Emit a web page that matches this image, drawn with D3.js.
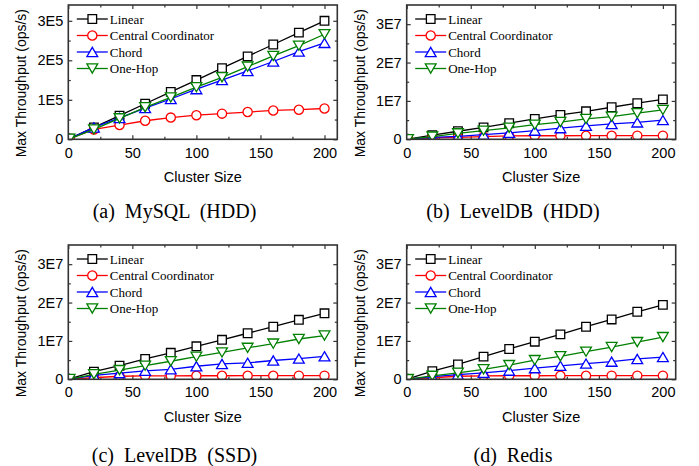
<!DOCTYPE html>
<html>
<head>
<meta charset="utf-8">
<script src="https://cdn.jsdelivr.net/npm/d3@7"></script>
<style>
  html, body { margin: 0; padding: 0; background: #fff; }
  svg { display: block; }
</style>
</head>
<body>
<svg id="chart" width="699" height="466"></svg>
<script>
// ---------------- DATA ----------------
const clusterSizes = [1, 20, 40, 60, 80, 100, 120, 140, 160, 180, 200];
const seriesNames = ["Linear", "Central Coordinator", "Chord", "One-Hop"];

// (a) MySQL (HDD)
const mysqlLinear  = [1500, 30000, 60000, 90000, 120000, 150000, 180000, 210000, 240000, 270000, 300000];
const mysqlCentral = [1500, 25000, 36000, 47000, 55000, 61000, 65000, 69000, 73000, 75000, 78000];
const mysqlChord   = [1200, 30000, 54000, 79000, 102000, 127000, 150000, 173000, 197000, 222000, 244000];
const mysqlOneHop  = [1300, 25000, 53000, 81000, 106000, 132000, 157000, 184000, 211000, 237000, 266000];

// (b) LevelDB (HDD)
const ldbHddLinear  = [52000, 1100000, 2100000, 3100000, 4200000, 5300000, 6350000, 7300000, 8350000, 9400000, 10400000];
const ldbHddCentral = [50000, 400000, 500000, 700000, 900000, 920000, 930000, 940000, 940000, 950000, 950000];
const ldbHddChord   = [30000, 500000, 750000, 1200000, 1700000, 2250000, 2900000, 3500000, 4000000, 4400000, 5000000];
const ldbHddOneHop  = [40000, 700000, 1550000, 2250000, 3000000, 3800000, 4500000, 5300000, 5900000, 6800000, 7650000];

// (c) LevelDB (SSD)
const ldbSsdLinear  = [86000, 2000000, 3550000, 5300000, 6900000, 8600000, 10300000, 12000000, 13700000, 15500000, 17200000];
const ldbSsdCentral = [50000, 400000, 800000, 900000, 900000, 920000, 930000, 940000, 940000, 950000, 950000];
const ldbSsdChord   = [30000, 1000000, 1600000, 2200000, 2600000, 3400000, 4000000, 4300000, 4900000, 5400000, 6000000];
const ldbSsdOneHop  = [60000, 1300000, 2400000, 3550000, 4700000, 5900000, 7000000, 8200000, 9300000, 10500000, 11400000];

// (d) Redis
const redisLinear  = [97000, 2100000, 3900000, 5900000, 7900000, 9800000, 11700000, 13700000, 15600000, 17600000, 19400000];
const redisCentral = [50000, 400000, 800000, 900000, 920000, 930000, 940000, 940000, 950000, 950000, 950000];
const redisChord   = [30000, 700000, 1200000, 1700000, 2250000, 2900000, 3500000, 4100000, 4600000, 5300000, 5800000];
const redisOneHop  = [55000, 900000, 1700000, 2600000, 3700000, 5000000, 6000000, 7200000, 8400000, 9700000, 11000000];

// Axis ticks
const xTicks = [0, 50, 100, 150, 200];
const xMinorTicks = [25, 75, 125, 175];
const yTicksE5 = [0, 100000, 200000, 300000];
const yTickLabelsE5 = ["0", "1E5", "2E5", "3E5"];
const yTicksE7 = [0, 10000000, 20000000, 30000000];
const yTickLabelsE7 = ["0", "1E7", "2E7", "3E7"];
const xLabel = "Cluster Size";
const yLabel = "Max Throughput (ops/s)";
const captions = ["(a) MySQL (HDD)", "(b) LevelDB (HDD)", "(c) LevelDB (SSD)", "(d) Redis"];

// ---------------- LAYOUT ----------------
const colors = ["#000000", "#ff0000", "#0000ff", "#008000"];
const sansFont = "'Liberation Sans', Arial, Helvetica, sans-serif";
const serifFont = "'Liberation Serif', 'Times New Roman', Times, serif";

const panels = [
  { left: 68.3, top: 5, right: 337.3, bottom: 139.3, yMax: 340000, yTicks: yTicksE5, yLabels: yTickLabelsE5,
    series: [mysqlLinear, mysqlCentral, mysqlChord, mysqlOneHop], caption: captions[0], capX: 174.5, ylabX: 21, capY: 217.5, xlabY: 182, tickPad: 8.2 },
  { left: 406.7, top: 5, right: 675.7, bottom: 139.3, yMax: 35000000, yTicks: yTicksE7, yLabels: yTickLabelsE7,
    series: [ldbHddLinear, ldbHddCentral, ldbHddChord, ldbHddOneHop], caption: captions[1], capX: 513, ylabX: 360, capY: 217.5, xlabY: 182, tickPad: 8.2 },
  { left: 68.3, top: 245, right: 337.3, bottom: 379.3, yMax: 35000000, yTicks: yTicksE7, yLabels: yTickLabelsE7,
    series: [ldbSsdLinear, ldbSsdCentral, ldbSsdChord, ldbSsdOneHop], caption: captions[2], capX: 174.5, ylabX: 21, capY: 461.5, xlabY: 422, tickPad: 7.4 },
  { left: 406.7, top: 245, right: 675.7, bottom: 379.3, yMax: 35000000, yTicks: yTicksE7, yLabels: yTickLabelsE7,
    series: [redisLinear, redisCentral, redisChord, redisOneHop], caption: captions[3], capX: 513, ylabX: 360, capY: 461.5, xlabY: 422, tickPad: 7.4 }
];

const svg = d3.select("#chart");

function markerPath(kind) {
  if (kind === 0) { const s = 4.3; return `M${-s},${-s}H${s}V${s}H${-s}Z`; }
  if (kind === 1) { const r = 4.6; return `M${r},0A${r},${r} 0 1,1 ${-r},0A${r},${r} 0 1,1 ${r},0Z`; }
  if (kind === 2) { const w = 5.4, h = 4.6; return `M0,${-h}L${w},${h}L${-w},${h}Z`; }
  const w = 5.4, h = 4.6; return `M0,${h}L${w},${-h}L${-w},${-h}Z`;
}

panels.forEach((p, pi) => {
  const x = d3.scaleLinear().domain([0, 210]).range([p.left, p.right]);
  const y = d3.scaleLinear().domain([0, p.yMax]).range([p.bottom, p.top]);
  const g = svg.append("g");

  const clipId = "clip" + pi;
  svg.append("clipPath").attr("id", clipId)
    .append("rect").attr("x", p.left).attr("y", p.top)
    .attr("width", p.right - p.left).attr("height", p.bottom - p.top);

  const axB = g.append("g").attr("transform", `translate(0,${p.bottom})`)
    .call(d3.axisBottom(x).tickValues(xTicks).tickSize(-4).tickPadding(p.tickPad).tickFormat(d3.format("d")));
  const axBm = g.append("g").attr("transform", `translate(0,${p.bottom})`)
    .call(d3.axisBottom(x).tickValues(xMinorTicks).tickSize(-2.5).tickFormat(""));
  const axT = g.append("g").attr("transform", `translate(0,${p.top})`)
    .call(d3.axisTop(x).tickValues(xTicks).tickSize(-4).tickFormat(""));
  const axTm = g.append("g").attr("transform", `translate(0,${p.top})`)
    .call(d3.axisTop(x).tickValues(xMinorTicks).tickSize(-2.5).tickFormat(""));

  const yMinor = p.yTicks.slice(0, -1).map((v, i) => (v + p.yTicks[i + 1]) / 2).concat([p.yTicks[p.yTicks.length - 1] + (p.yTicks[1] - p.yTicks[0]) / 2]).filter(v => v < p.yMax);
  const axL = g.append("g").attr("transform", `translate(${p.left},0)`)
    .call(d3.axisLeft(y).tickValues(p.yTicks).tickSize(-4).tickPadding(5)
      .tickFormat((d, i) => p.yLabels[i]));
  const axLm = g.append("g").attr("transform", `translate(${p.left},0)`)
    .call(d3.axisLeft(y).tickValues(yMinor).tickSize(-2.5).tickFormat(""));
  const axR = g.append("g").attr("transform", `translate(${p.right},0)`)
    .call(d3.axisRight(y).tickValues(p.yTicks).tickSize(-4).tickFormat(""));
  const axRm = g.append("g").attr("transform", `translate(${p.right},0)`)
    .call(d3.axisRight(y).tickValues(yMinor).tickSize(-2.5).tickFormat(""));

  [axB, axBm, axT, axTm, axL, axLm, axR, axRm].forEach(a => {
    a.select(".domain").remove();
    a.selectAll("line").attr("stroke", "#333").attr("stroke-width", 1.2);
    a.selectAll("text").attr("font-family", sansFont).attr("font-size", "14.5px").attr("fill", "#000");
  });

  const plot = g.append("g").attr("clip-path", `url(#${clipId})`);
  const line = d3.line().x((d, i) => x(clusterSizes[i])).y(d => y(d));
  p.series.forEach((vals, si) => {
    plot.append("path").datum(vals).attr("d", line)
      .attr("fill", "none").attr("stroke", colors[si]).attr("stroke-width", 1.3);
    plot.selectAll(null).data(vals).enter().append("path")
      .attr("d", markerPath(si))
      .attr("transform", (d, i) => `translate(${x(clusterSizes[i])},${y(d)})`)
      .attr("fill", "#fff").attr("stroke", colors[si]).attr("stroke-width", 1.3);
  });

  g.append("rect").attr("x", p.left).attr("y", p.top)
    .attr("width", p.right - p.left).attr("height", p.bottom - p.top)
    .attr("fill", "none").attr("stroke", "#333").attr("stroke-width", 1.6);

  const lg = g.append("g");
  seriesNames.forEach((name, si) => {
    const ly = p.top + 14 + si * 16.5;
    const x0 = p.left + 8.5, x1 = p.left + 39.5;
    lg.append("line").attr("x1", x0).attr("x2", x1).attr("y1", ly).attr("y2", ly)
      .attr("stroke", colors[si]).attr("stroke-width", 1.3);
    lg.append("path").attr("d", markerPath(si))
      .attr("transform", `translate(${(x0 + x1) / 2},${ly})`)
      .attr("fill", "#fff").attr("stroke", colors[si]).attr("stroke-width", 1.3);
    lg.append("text").attr("x", p.left + 41.5).attr("y", ly).attr("dy", "0.35em")
      .attr("font-family", serifFont).attr("font-size", "13px").attr("fill", "#000").text(name);
  });

  g.append("text").attr("x", (p.left + p.right) / 2).attr("y", p.xlabY)
    .attr("text-anchor", "middle").attr("font-family", sansFont).attr("font-size", "14.5px").text(xLabel);
  g.append("text").attr("transform", `translate(${p.ylabX},${(p.top + p.bottom) / 2 + 11}) rotate(-90)`)
    .attr("dy", "0.35em").attr("text-anchor", "middle").attr("font-family", sansFont)
    .attr("font-size", "14px").text(yLabel);

  g.append("text").attr("x", p.capX).attr("y", p.capY).attr("text-anchor", "middle")
    .attr("font-family", serifFont).attr("font-size", "20px").attr("word-spacing", "5px").text(p.caption);
});
</script>
</body>
</html>
